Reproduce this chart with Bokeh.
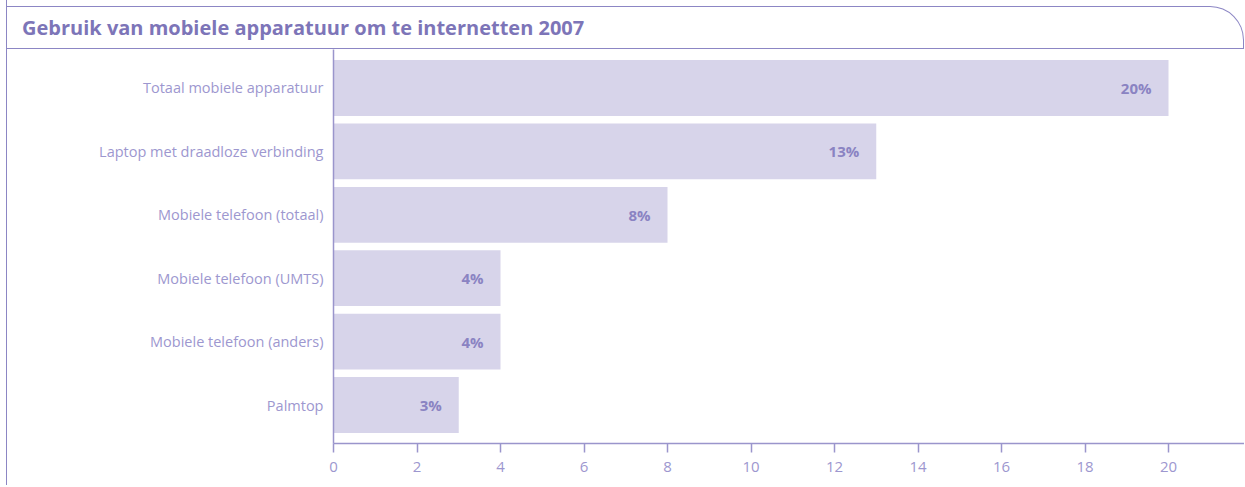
from bokeh.plotting import figure
from bokeh.models import ColumnDataSource, FactorRange, Range1d, FixedTicker, Div
from bokeh.layouts import column
from bokeh.core.properties import value
from bokeh.embed import file_html
from bokeh.resources import INLINE

title = "Gebruik van mobiele apparatuur om te internetten 2007"
categories = [
    "Totaal mobiele apparatuur",
    "Laptop met draadloze verbinding",
    "Mobiele telefoon (totaal)",
    "Mobiele telefoon (UMTS)",
    "Mobiele telefoon (anders)",
    "Palmtop",
]
values = [20, 13, 8, 4, 4, 3]
value_labels = ["20%", "13%", "8%", "4%", "4%", "3%"]
x_ticks = [0, 2, 4, 6, 8, 10, 12, 14, 16, 18, 20, 22]

LINE = "#8c86c4"
AXIS = "#9a95cc"
TITLE_C = "#7d75b8"
BAR = "#d7d4ea"
LABEL_C = "#9d97cf"
VAL_C = "#8a83c2"
FONT = "Open Sans"
W = 1237

src = ColumnDataSource(dict(cat=categories, val=values, lab=value_labels))

title_div = Div(
    text=title,
    width=W,
    height=43,
    margin=(6, 0, 0, 0),
    styles={
        "box-sizing": "border-box",
        "border-top": f"1px solid {LINE}",
        "border-right": f"1px solid {LINE}",
        "border-bottom": f"1px solid {LINE}",
        "border-top-right-radius": "34px",
        "padding-left": "15px",
        "font-family": FONT,
        "font-weight": "bold",
        "font-size": "20px",
        "line-height": "41px",
        "color": TITLE_C,
        "white-space": "nowrap",
    },
)

yr = FactorRange(factors=list(reversed(categories)), range_padding=0.107, range_padding_units="absolute")
p = figure(
    width=W,
    height=436,
    y_range=yr,
    x_range=Range1d(0, 21.82),
    output_backend="svg",
    toolbar_location=None,
    min_border_left=326,
    min_border_right=0,
    min_border_top=0,
    min_border_bottom=42,
    margin=0,
)
p.outline_line_color = None
p.grid.grid_line_color = None

p.hbar(y="cat", right="val", left=0, height=0.88, source=src, fill_color=BAR, line_color=None)
p.text(x="val", y="cat", text="lab", source=src, x_offset=-17, text_align="right",
       text_baseline="middle", text_font=value(FONT), text_font_style="bold",
       text_font_size="15px", text_color=VAL_C)

xa = p.xaxis[0]
xa.ticker = FixedTicker(ticks=x_ticks)
xa.axis_line_color = AXIS
xa.axis_line_width = 1.5
xa.major_tick_line_color = AXIS
xa.major_tick_line_width = 1.5
xa.major_tick_in = 0
xa.major_tick_out = 9
xa.minor_tick_line_color = None
xa.major_label_text_font = FONT
xa.major_label_text_font_size = "15px"
xa.major_label_text_color = LABEL_C
xa.major_label_standoff = 9

ya = p.yaxis[0]
ya.axis_line_color = AXIS
ya.axis_line_width = 1.5
ya.major_tick_line_color = None
ya.minor_tick_line_color = None
ya.major_label_text_font = FONT
ya.major_label_text_font_size = "14.5px"
ya.major_label_text_color = LABEL_C
ya.major_label_standoff = 4

layout = column(title_div, p, spacing=0,
                styles={"border-left": f"1px solid {LINE}", "margin-left": "6px"})

open("out.html", "w").write(file_html(layout, INLINE))
